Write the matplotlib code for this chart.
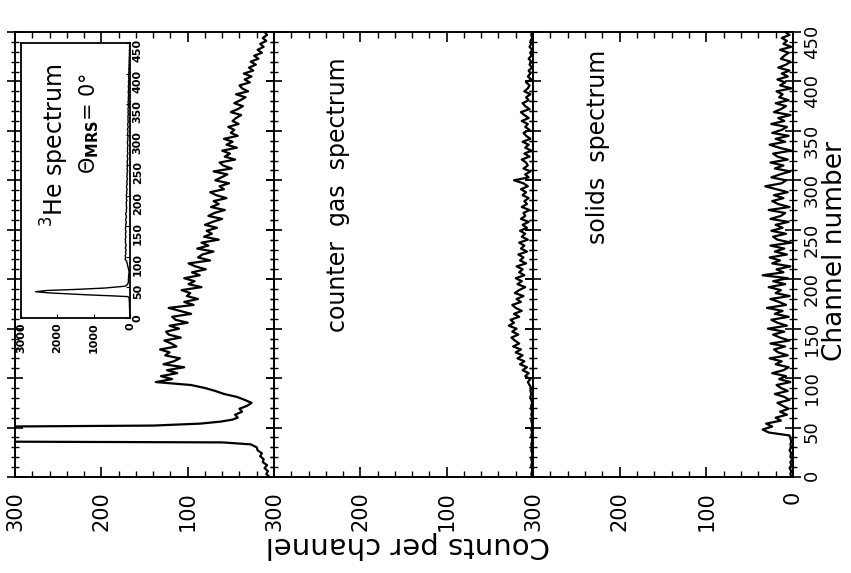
import matplotlib
matplotlib.use("Agg")
import matplotlib.pyplot as plt
from matplotlib.ticker import MultipleLocator, FixedLocator

# ---------------- data ----------------
he_channels = (list(range(0, 34, 3))
               + [35, 36, 38, 41, 43, 45, 47, 49, 51, 52, 54, 56, 58, 60]
               + list(range(63, 97, 3))
               + list(range(99, 451, 3)))
he_counts = ([5, 9, 7, 11, 8, 13, 12, 16, 14, 19, 20, 27]
             + [60, 400, 1200, 2200, 2600, 2300, 1400, 700, 320, 140, 85, 62, 48, 42]
             + [45, 37, 40, 31, 26, 34, 43, 58, 68, 80, 96, 137]
             + [118, 131, 112, 124, 104, 128, 116, 109, 126, 121, 132, 113, 119, 127, 108, 122, 125,
                110, 121, 100, 114, 118, 96, 109, 122, 93, 104, 88, 101, 97, 107, 84, 99, 92,
                104, 86, 95, 79, 91, 99, 74, 88, 83, 70, 89, 76, 84, 64, 81, 72, 78,
                66, 80, 71, 60, 76, 69, 57, 73, 64, 70, 55, 67, 74, 58, 63, 52, 68,
                61, 54, 70, 49, 59, 63, 45, 57, 51, 60, 43, 55, 48, 58, 42, 50, 46,
                53, 41, 48, 44, 38, 50, 42, 36, 46, 39, 33, 44, 30, 37, 40, 28, 34,
                26, 35, 24, 29, 21, 27, 18, 23, 14, 19, 12, 16, 9, 13, 8, 11])

gas_channels = list(range(0, 451, 3))
gas_counts = [1, 2, 1, 1, 2, 1, 2, 1, 1, 2, 1, 2, 1, 1, 2, 1, 2, 1, 1, 2, 1, 2, 1, 2, 2, 1, 2, 3, 2, 3, 2, 4,
              6, 3, 9, 5, 12, 7, 15, 10, 18, 12, 20, 14, 23, 16, 21, 25, 17, 24, 19,
              28, 22, 26, 16, 22, 13, 20, 24, 14, 19, 11, 21, 16, 9, 18, 13, 20,
              10, 16, 12, 19, 8, 15, 11, 17, 7, 14, 10, 16, 6, 13, 9, 15, 7,
              12, 5, 14, 9, 11, 4, 13, 7, 10, 5, 12, 8, 14, 6, 11, 22, 5,
              9, 3, 11, 6, 8, 13, 4, 10, 2, 9, 5, 12, 3, 8, 11, 4, 9,
              6, 13, 5, 10, 14, 4, 9, 12, 5, 8, 3, 10, 6, 4, 8, 2, 6,
              3, 5, 1, 4, 2, 5, 2, 3, 1, 4, 2, 3, 1, 2, 1]

solid_channels = (list(range(0, 43, 3)) + [45, 48, 51, 54, 57, 60]
                  + list(range(63, 100, 3)) + list(range(102, 451, 3)))
solid_counts = [2, 3, 2, 4, 2, 3, 1, 3, 2, 4, 2, 3, 2, 3, 4,
                28, 35, 24, 31, 14, 20,
                7, 15, 5, 12, 18, 4, 10, 21, 6, 14, 19, 3, 16,
                8, 24, 11, 5, 20, 13, 27, 6, 17, 22, 9, 26, 4, 15, 23, 10, 29,
                7, 18, 25, 5, 21, 12, 30, 8, 16, 26, 4, 20, 14, 28, 9, 23, 6,
                35, 11, 19, 3, 24, 15, 27, 7, 21, 10, 26, 2, 18, 23, 8, 25, 12,
                20, 5, 26, 14, 9, 28, 4, 17, 24, 11, 22, 6, 19, 32, 13, 8, 25,
                15, 3, 21, 11, 26, 6, 18, 23, 2, 16, 27, 9, 20, 5, 24, 13, 7,
                25, 10, 17, 3, 22, 14, 8, 20, 5, 16, 12, 19, 2, 15, 9, 18, 6,
                13, 4, 17, 8, 3, 14, 10, 5, 15, 2, 11, 7, 13, 4, 9]

panel_titles = ["counter  gas  spectrum", "solids  spectrum"]
count_ticks = [0, 100, 200, 300]
channel_ticks = list(range(0, 451, 50))
inset_count_ticks = [0, 1000, 2000, 3000]

# ---------------- layout ----------------
W, H = 851, 573
fig = plt.figure(figsize=(W / 100, H / 100), dpi=100)
plt.rcParams["font.family"] = ["DejaVu Sans"]


def frac(x0, y0, x1, y1):
    return [x0 / W, 1 - y1 / H, (x1 - x0) / W, (y1 - y0) / H]


edges = [15, 274, 533, 793]
series = [(he_counts, he_channels), (gas_counts, gas_channels), (solid_counts, solid_channels)]
axes = []
for i in range(3):
    ax = fig.add_axes(frac(edges[i], 32, edges[i + 1], 477))
    cnt, ch = series[i]
    ax.plot(cnt, ch, color="black", lw=1.6)
    ax.set_xlim(300, 0)
    ax.set_ylim(0, 450)
    for s in ax.spines.values():
        s.set_linewidth(1.4)
    ax.xaxis.set_major_locator(FixedLocator(count_ticks))
    ax.xaxis.set_minor_locator(MultipleLocator(20))
    labels = [str(v) for v in count_ticks]
    if i < 2:
        labels[0] = ""
    ax.set_xticklabels(labels)
    ax.tick_params(axis="x", which="both", direction="in", top=True, bottom=True,
                   labelrotation=90, labelsize=15, pad=10)
    ax.tick_params(axis="x", which="major", length=7, width=1.2)
    ax.tick_params(axis="x", which="minor", length=4, width=1.0)
    ax.yaxis.set_major_locator(FixedLocator(channel_ticks))
    ax.yaxis.set_minor_locator(MultipleLocator(10))
    ax.tick_params(axis="y", which="both", direction="inout", left=True, right=True,
                   labelleft=False, labelright=(i == 2), labelrotation=90, labelsize=13, pad=1)
    ax.tick_params(axis="y", which="major", length=12, width=1.2)
    ax.tick_params(axis="y", which="minor", length=6, width=1.0)
    axes.append(ax)

# panel titles
fig.text(338 / W, 1 - 195 / H, panel_titles[0], rotation=90, fontsize=17,
         ha="center", va="center")
fig.text(598 / W, 1 - 147 / H, panel_titles[1], rotation=90, fontsize=17,
         ha="center", va="center")

# inset with the full-scale 3He spectrum
ins = fig.add_axes(frac(21, 43, 130, 318))
ins.plot(he_counts, he_channels, color="black", lw=1.0)
ins.set_xlim(3000, 0)
ins.set_ylim(0, 450)
for s in ins.spines.values():
    s.set_linewidth(1.3)
ins.xaxis.set_major_locator(FixedLocator(inset_count_ticks))
ins.yaxis.set_major_locator(FixedLocator(channel_ticks))
ins.tick_params(axis="x", direction="in", labelrotation=90, labelsize=8, pad=3, length=3)
ins.tick_params(axis="y", direction="in", left=False, right=True, labelleft=False,
                labelright=True, labelrotation=90, labelsize=8, pad=2, length=3)
for lab in ins.get_xticklabels() + ins.get_yticklabels():
    lab.set_fontweight("bold")

fig.text(55 / W, 1 - 145 / H, r"$^{3}$He spectrum", rotation=90, fontsize=17,
         ha="center", va="center")
fig.text(89 / W, 1 - 123 / H, r"$\Theta_{\mathbf{MRS}}$= 0°", rotation=90, fontsize=15,
         ha="center", va="center")

# axis titles (rotated as in the scanned figure)
fig.text(835 / W, 1 - 251 / H, "Channel number", rotation=90, fontsize=19,
         ha="center", va="center")
fig.text(408 / W, 1 - 545 / H, "Counts per channel", rotation=180, fontsize=21,
         ha="center", va="center")

fig.savefig("out.png", dpi=100)
